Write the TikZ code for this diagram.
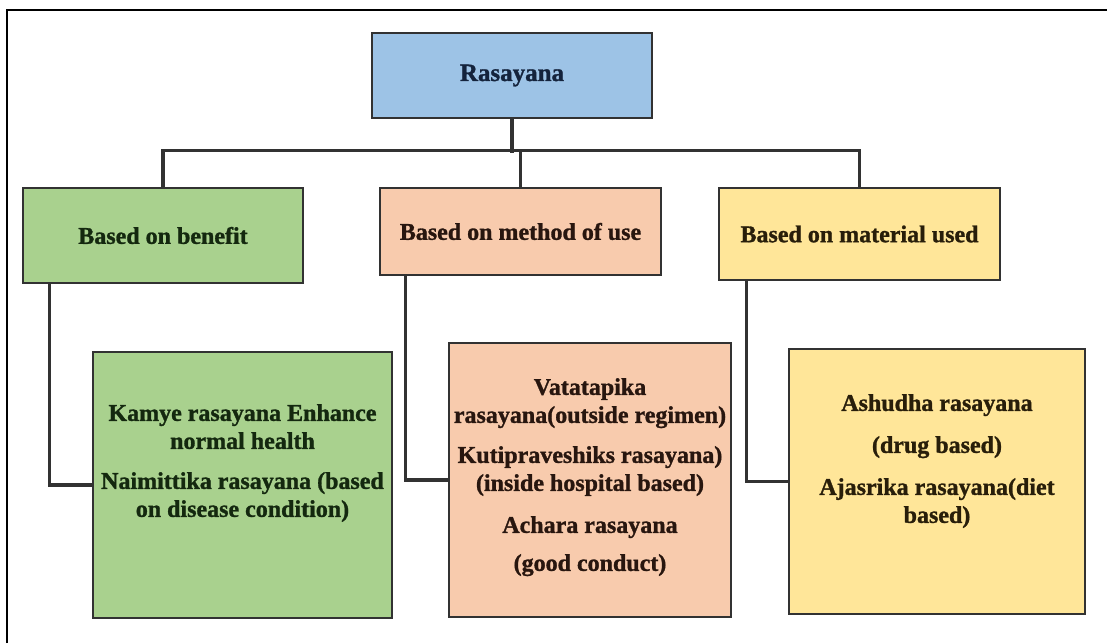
\documentclass[tikz,border=0pt]{standalone}
\usepackage{fontspec}
\setmainfont{Liberation Serif}[BoldFeatures={FakeBold=1.2}]
\usepackage{tikz}
\usetikzlibrary{calc}

\definecolor{rootblue}{RGB}{157,195,230}
\definecolor{benefitgreen}{RGB}{169,209,142}
\definecolor{methodorange}{RGB}{248,203,173}
\definecolor{materialyellow}{RGB}{255,230,153}
\definecolor{edgegray}{RGB}{50,50,50}

\begin{document}
\begin{tikzpicture}[x=1pt, y=-1pt,
    box/.style={draw=edgegray, line width=2.6pt, inner sep=0pt},
    heading/.style={font=\bfseries\fontsize{24}{28}\selectfont},
    itemtext/.style={font=\bfseries\fontsize{24}{28}\selectfont, align=center, inner sep=0pt, anchor=north},
    link/.style={draw=edgegray, line width=3.2pt}]
  \useasboundingbox (0,0) rectangle (1107,643);
  \draw [line width=2.2pt] (7,643) -- (7,10) -- (1107,10);

  \node (root) at (512,75.5) [box, heading, fill=rootblue, text={rgb,255:red,20;green,35;blue,60},
    minimum width=280pt, minimum height=85pt, font=\bfseries\fontsize{25}{28}\selectfont] {Rasayana};

  \node (benefit) at (163,235.5) [box, heading, fill=benefitgreen, text={rgb,255:red,20;green,40;blue,15},
    minimum width=280pt, minimum height=95pt] {Based on benefit};
  \node (method) at (520.5,231.5) [box, heading, fill=methodorange, text={rgb,255:red,40;green,22;blue,15},
    minimum width=281pt, minimum height=87pt] {Based on method of use};
  \node (material) at (859.5,234) [box, heading, fill=materialyellow, text={rgb,255:red,40;green,30;blue,10},
    minimum width=281pt, minimum height=92pt] {Based on material used};

  \node (kamye) at (242.5,485) [box, fill=benefitgreen, minimum width=299pt, minimum height=266pt] {};
  \node (vata) at (590,480) [box, fill=methodorange, minimum width=282pt, minimum height=274pt] {};
  \node (ashudha) at (937,481.5) [box, fill=materialyellow, minimum width=296pt, minimum height=265pt] {};

  \node (kamye text) at (242.5,404) [itemtext, text={rgb,255:red,20;green,40;blue,15}]
    {Kamye rasayana Enhance\\normal health\\[12pt]Naimittika rasayana (based\\on disease condition)};
  \node (vata text) at (590,378) [itemtext, text={rgb,255:red,40;green,22;blue,15}]
    {Vatatapika\\rasayana(outside regimen)\\[12pt]Kutipraveshiks rasayana)\\(inside hospital based)\\[14pt]Achara rasayana\\[10pt](good conduct)};
  \node (ashudha text) at (937,394) [itemtext, text={rgb,255:red,40;green,30;blue,10}]
    {Ashudha rasayana\\[14pt](drug based)\\[14pt]Ajasrika rasayana(diet\\based)};

  \draw [link] (root.south) -- ++(0,34);
  \draw [link] (benefit.north) -- ++(0,-36) -| (material.north);
  \draw [link] (method.north) -- ++(0,-36);

  \draw [link] ([xshift=28pt]benefit.south west) |- (kamye.west);
  \draw [link] ([xshift=27pt]method.south west) |- (vata.west);
  \draw [link] ([xshift=29pt]material.south west) |- (ashudha.west);
\end{tikzpicture}
\end{document}
